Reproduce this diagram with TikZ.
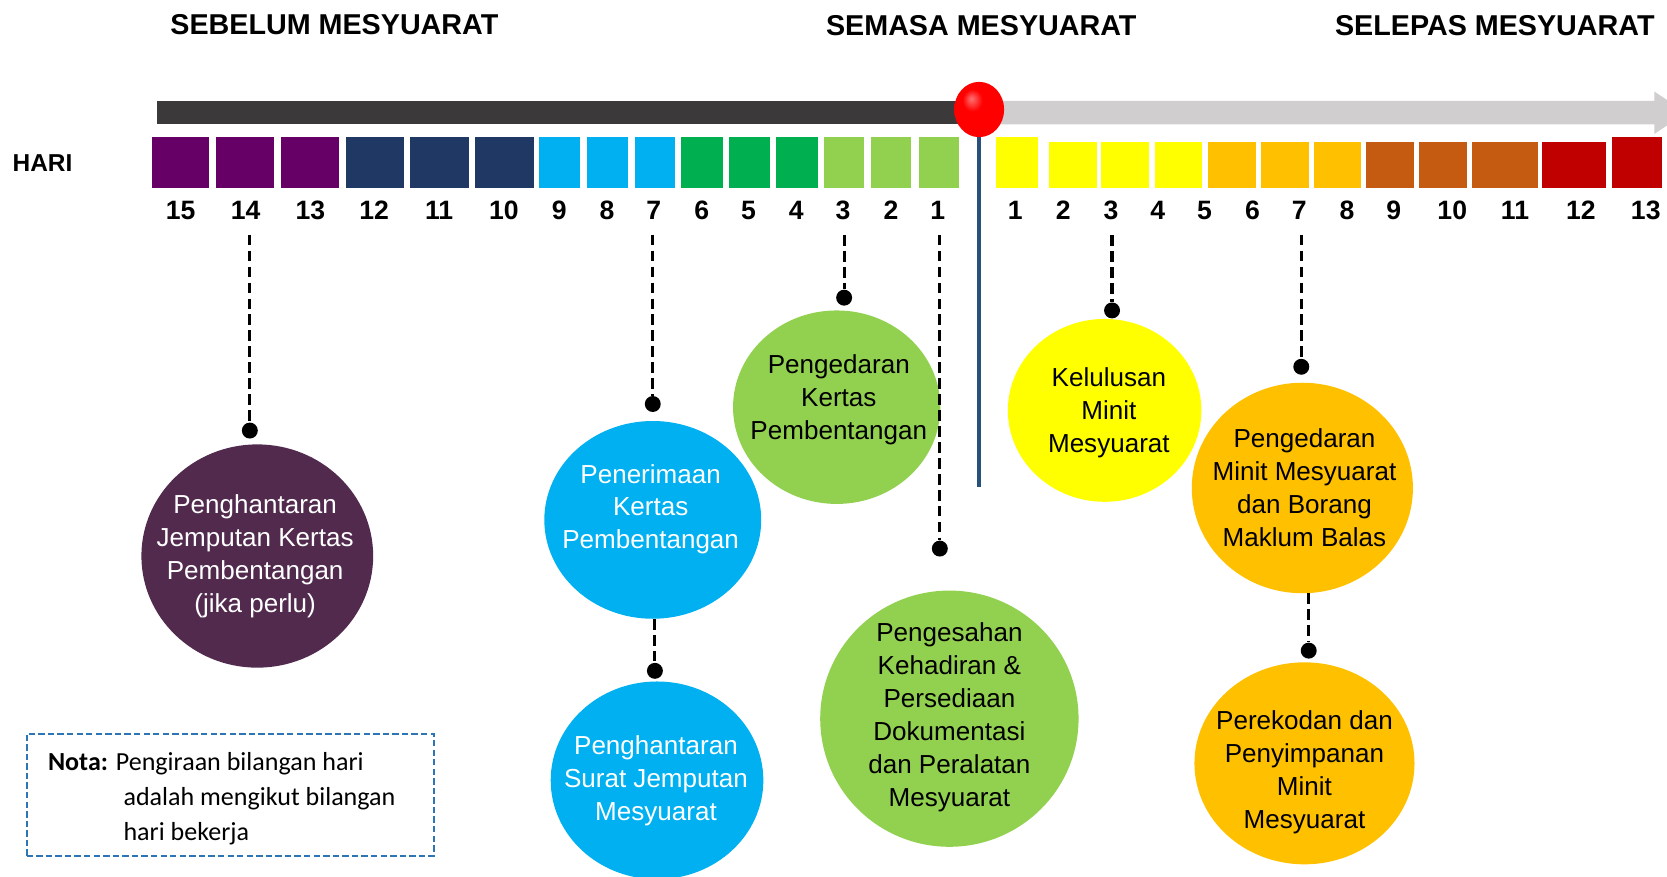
\documentclass[tikz,border=0pt]{standalone}
\usepackage{fontspec}
\setmainfont{Liberation Sans}
\newfontfamily\notafont{Carlito}
\usetikzlibrary{shapes.geometric}
\definecolor{cpurple}{HTML}{660066}
\definecolor{cnavy}{HTML}{203864}
\definecolor{ccyan}{HTML}{00B0F0}
\definecolor{cgreen}{HTML}{00B050}
\definecolor{clgreen}{HTML}{92D050}
\definecolor{cyellow}{HTML}{FFFF00}
\definecolor{corange}{HTML}{FFC000}
\definecolor{cbrown}{HTML}{C55A11}
\definecolor{cred}{HTML}{C00000}
\definecolor{cplum}{RGB}{81,42,78}
\definecolor{cdark}{RGB}{59,57,58}
\definecolor{clight}{RGB}{208,206,206}
\definecolor{cvline}{RGB}{40,80,125}
\definecolor{cnota}{HTML}{2E75B6}
\pgfdeclareradialshading{redball}{\pgfpoint{-8bp}{10bp}}{%
  color(0bp)=(red!55!white); color(10bp)=(red); color(36bp)=(red);
  color(48bp)=(red!55!black); color(60bp)=(red!45!black)}
\begin{document}
\begin{tikzpicture}[x=1pt,y=-1pt,
  title/.style={font=\fontsize{27}{30}\selectfont\bfseries, inner sep=0},
  num/.style={font=\fontsize{25}{28}\selectfont\bfseries, inner sep=0},
  bub/.style={ellipse, inner sep=0, draw=none},
  bubtext/.style={align=center, font=\fontsize{24.5}{31}\selectfont, inner sep=0},
  dashline/.style={black, line width=3pt, dash pattern=on 10pt off 5pt},
  dotn/.style={circle, fill=black, minimum size=15pt, inner sep=0},
  notabox/.style={draw=cnota, line width=1.8pt, dash pattern=on 6pt off 3pt, inner sep=0},
  notatext/.style={font=\notafont\fontsize{24.5}{33}\selectfont, inner sep=0}
]
\useasboundingbox (0,0) rectangle (1568,824);
\clip (0,0) rectangle (1568,824);

% titles
\node[title] (t1) at (314.5,23) {SEBELUM MESYUARAT};
\node[title] (t2) at (923,24) {SEMASA MESYUARAT};
\node[title] (t3) at (1406,24) {SELEPAS MESYUARAT};
\node[font=\fontsize{23}{26}\selectfont\bfseries, inner sep=0] (hari) at (40,153) {HARI};

% timeline bars
\fill[cdark] (148,95) rectangle (905,117);
\fill[clight] (921,95) -- (1556,95) -- (1556,86) -- (1586,106) -- (1556,126) -- (1556,117) -- (921,117) -- cycle;

% day boxes before meeting
\foreach \a/\b/\c in {143/197/cpurple, 203/258/cpurple, 264/319/cpurple,
  325/380/cnavy, 386/441/cnavy, 447/502/cnavy,
  507/546/ccyan, 552/591/ccyan, 597/635/ccyan,
  641/680/cgreen, 686/724/cgreen, 730/769/cgreen,
  775/813/clgreen, 819/857/clgreen, 864/902/clgreen}
  \fill[\c] (\a,129) rectangle (\b,176.5);
% day boxes after meeting
\fill[cyellow] (937,129) rectangle (976,176.5);
\foreach \a/\b/\c in {987/1032/cyellow, 1036/1081/cyellow, 1086/1131/cyellow,
  1136/1181/corange, 1186/1231/corange, 1236/1280/corange,
  1285/1330/cbrown, 1335/1380/cbrown, 1385/1447/cbrown,
  1450/1511/cred}
  \fill[\c] (\a,133.5) rectangle (\b,176.5);
\fill[cred] (1516,129) rectangle (1563,176.5);

% numbers
\foreach \n/\x in {15/170, 14/231, 13/292, 12/352, 11/413, 10/474, 9/526, 8/571,
  7/615, 6/660, 5/704, 4/749, 3/793, 2/838, 1/882}
  \node[num] (l\n) at (\x,198) {\n};
\foreach \n/\x in {1/955, 2/1000, 3/1045, 4/1089, 5/1133, 6/1178, 7/1222, 8/1267,
  9/1311, 10/1366, 11/1425, 12/1487, 13/1548}
  \node[num] (r\n) at (\x,198) {\n};

% vertical meeting line and ball
\coordinate (ballc) at (921,103);
\coordinate (vend) at (921,458);
\draw[cvline, line width=4pt] (ballc) -- (vend);
\node[ellipse, minimum width=47pt, minimum height=52pt, inner sep=0, shading=redball] (ball) at (ballc) {};

% bubbles
\node[bub, fill=cplum, minimum width=218pt, minimum height=210pt] (c1) at (242,523) {};
\node[bub, fill=ccyan, minimum width=204pt, minimum height=186pt] (c2) at (614,489) {};
\node[bub, fill=ccyan, minimum width=200pt, minimum height=186pt] (c3) at (618,734) {};
\node[bub, fill=clgreen, minimum width=195pt, minimum height=182pt] (c4) at (787,383) {};
\node[bub, fill=clgreen, minimum width=243pt, minimum height=241pt] (c5) at (893,676) {};
\node[bub, fill=cyellow, minimum width=182pt, minimum height=172pt] (c6) at (1039,386) {};
\node[bub, fill=corange, minimum width=208pt, minimum height=198pt] (c7) at (1225,459) {};
\node[bub, fill=corange, minimum width=207pt, minimum height=190pt] (c8) at (1227,718) {};

\node[bubtext, text=white] (x1) at (240,523.5) {Penghantaran\\Jemputan Kertas\\Pembentangan\\(jika perlu)};
\node[bubtext, text=white] (x2) at (612,479) {Penerimaan\\Kertas\\Pembentangan};
\node[bubtext, text=white] (x3) at (617,734) {Penghantaran\\Surat Jemputan\\Mesyuarat};
\node[bubtext] (x4) at (789,376) {Pengedaran\\Kertas\\Pembentangan};
\node[bubtext] (x5) at (893,675) {Pengesahan\\Kehadiran \&\\Persediaan\\Dokumentasi\\dan Peralatan\\Mesyuarat};
\node[bubtext] (x6) at (1043,388) {Kelulusan\\Minit\\Mesyuarat};
\node[bubtext] (x7) at (1227,459) {Pengedaran\\Minit Mesyuarat\\dan Borang\\Maklum Balas};
\node[bubtext] (x8) at (1227,726) {Perekodan dan\\Penyimpanan\\Minit\\Mesyuarat};

% dots
\node[dotn] (d14) at (235,405) {};
\node[dotn] (dl7) at (614,380) {};
\node[dotn] (dl3) at (794,280) {};
\node[dotn] (dl1) at (884,516) {};
\node[dotn] (dr3) at (1046,292) {};
\node[dotn] (dr7) at (1224,345) {};
\node[dotn] (d23) at (616,631) {};
\node[dotn] (d78) at (1231,612) {};

% dashed connectors
\draw[dashline] ([yshift=-14pt]l14.south -| d14) -- (d14);
\draw[dashline] ([yshift=-14pt]l7.south -| dl7) -- (dl7);
\draw[dashline] ([yshift=-14pt]l3.south -| dl3) -- (dl3);
\draw[dashline] ([yshift=-14pt]l1.south -| dl1) -- (dl1);
\draw[dashline] ([yshift=-14pt]r3.south -| dr3) -- (dr3);
\draw[dashline] ([yshift=-14pt]r7.south -| dr7) -- (dr7);
\draw[dashline] (c2.south -| d23) -- (d23);
\draw[dashline] (c7.south -| d78) -- (d78);

% note box
\node[notabox, minimum width=383pt, minimum height=115pt] (nota) at (216.5,747.5) {};
\node[notatext, anchor=base west] (n1) at (45,725) {\textbf{Nota:} Pengiraan bilangan hari};
\node[notatext, anchor=base west] (n2) at (116,758) {adalah mengikut bilangan};
\node[notatext, anchor=base west] (n3) at (116,791) {hari bekerja};
\end{tikzpicture}
\end{document}
